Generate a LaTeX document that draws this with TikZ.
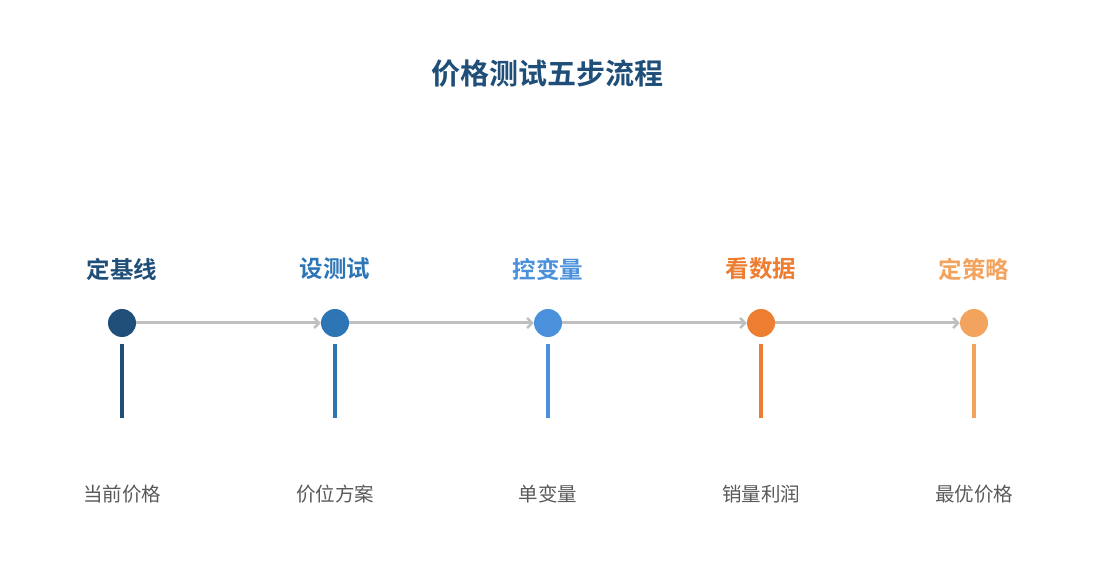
\documentclass[tikz,border=0pt]{standalone}
\usepackage{fontspec}
\newfontfamily\cjk{Noto Sans CJK SC}
\newfontfamily\cjkb{Noto Sans CJK SC Bold}
\usetikzlibrary{arrows.meta}
\definecolor{c1}{HTML}{1F4E79}
\definecolor{c2}{HTML}{2E75B6}
\definecolor{c3}{HTML}{4A90DB}
\definecolor{c4}{HTML}{ED7D31}
\definecolor{c5}{HTML}{F2A35E}
\definecolor{linegray}{HTML}{BFBFBF}
\definecolor{txtgray}{HTML}{595959}
\tikzset{
  dot/.style={circle,fill=#1,minimum size=28pt,inner sep=0pt},
  steptitle/.style={text=#1,font=\cjkb\fontsize{23.5}{26}\selectfont,inner sep=0pt},
  steptext/.style={text=txtgray,font=\cjk\fontsize{19.5}{23}\selectfont,inner sep=0pt},
  bar/.style={draw=#1,line width=4pt},
  flow/.style={draw=linegray,line width=3pt,-{Straight Barb[length=5pt,width=10pt,line width=2.5pt]}},
}
\begin{document}
\begin{tikzpicture}[x=1pt,y=-1pt]
\useasboundingbox (0,0) rectangle (1095,585);
\node[text=c1,font=\cjkb\fontsize{29}{33}\selectfont,inner sep=0pt] (title) at (547,74) {价格测试五步流程};
\foreach \i/\x/\c/\t/\s in {1/122/c1/定基线/当前价格,2/335/c2/设测试/价位方案,3/548/c3/控变量/单变量,4/761/c4/看数据/销量利润,5/974/c5/定策略/最优价格}{
  \node[dot=\c] (d\i) at (\x,323) {};
  \node[steptitle=\c] (t\i) at (\x,269) {\t};
  \node[steptext] (s\i) at (\x,494) {\s};
  \coordinate (b\i a) at (\x,344);
  \coordinate (b\i b) at (\x,418);
  \draw[bar=\c] (b\i a) -- (b\i b);
}
\foreach \a/\b in {1/2,2/3,3/4,4/5}{
  \draw[flow] (d\a) -- (d\b);
}
\end{tikzpicture}
\end{document}
